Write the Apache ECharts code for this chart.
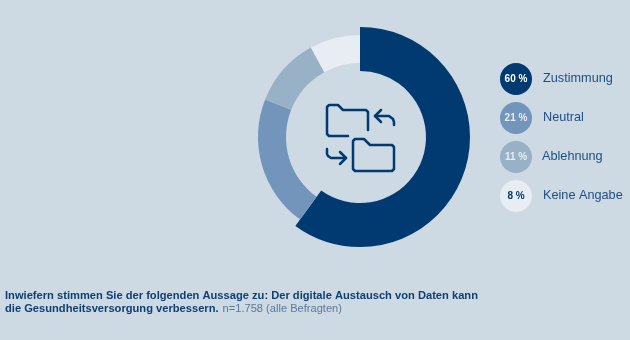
<!DOCTYPE html>
<html>
<head>
<meta charset="utf-8">
<title>Digitaler Austausch von Daten</title>
<script src="https://cdn.jsdelivr.net/npm/echarts@6/dist/echarts.min.js"></script>
<style>
html, body { margin: 0; padding: 0; background: #cdd9e3; }
#chart { width: 630px; height: 340px; }
</style>
</head>
<body>
<div id="chart"></div>
<script>
var categories = ['Zustimmung', 'Neutral', 'Ablehnung', 'Keine Angabe'];
var shares = [60, 21, 11, 8];
var colors = ['#003a70', '#7395bc', '#99b1c7', '#e7edf2'];
var badgeText = ['#ffffff', '#e7edf2', '#e7edf2', '#003a70'];

var questionBold = ['Inwiefern stimmen Sie der folgenden Aussage zu: Der digitale Austausch von Daten kann',
                    'die Gesundheitsversorgung verbessern.'];
var questionNote = 'n=1.758 (alle Befragten)';

var chart = echarts.init(document.getElementById('chart'), null, { renderer: 'canvas' });

// the big slice is wider than the others, so two rings sharing the same values
function ring(radius, showIndex) {
    return {
        type: 'pie',
        center: [360, 137],
        radius: radius,
        startAngle: 90,
        clockwise: true,
        silent: true,
        label: { show: false },
        labelLine: { show: false },
        data: categories.map(function (name, i) {
            return {
                name: name,
                value: shares[i],
                itemStyle: { color: showIndex(i) ? colors[i] : 'transparent' }
            };
        })
    };
}

var graphics = [];

// legend badges
var legendY = [79, 118, 157, 196];
var legendX = [543, 543, 542, 543];
categories.forEach(function (name, i) {
    graphics.push({
        type: 'circle',
        shape: { cx: 516, cy: legendY[i], r: 16 },
        style: { fill: colors[i] }
    });
    graphics.push({
        type: 'text',
        x: 516,
        y: legendY[i],
        style: {
            text: shares[i] + ' %',
            fill: badgeText[i],
            font: 'bold 10px "Liberation Sans"',
            align: 'center',
            verticalAlign: 'middle'
        }
    });
    graphics.push({
        type: 'text',
        x: legendX[i],
        y: legendY[i] - 1,
        style: {
            text: name,
            fill: '#1f4f83',
            font: '12.7px "Liberation Sans"',
            align: 'left',
            verticalAlign: 'middle'
        }
    });
});

// folder icon in the middle
var iconLines = [
    [[348, 136], [329, 136], [327, 134], [327, 107], [329, 105], [338, 105], [343, 110], [366, 110], [368, 112], [368, 130]],
    [[353, 141], [355, 139], [364, 139], [370, 145], [392, 145], [394, 147], [394, 169], [392, 171], [355, 171], [353, 169], [353, 141]],
    [[381, 110], [375, 116], [381, 122]],
    [[375, 116], [389, 116], [393, 119], [394, 122], [394, 125]],
    [[327, 149], [327, 154], [328, 156], [331, 158], [346, 158]],
    [[340, 152], [346, 158], [340, 164]]
];
iconLines.forEach(function (points) {
    graphics.push({
        type: 'polyline',
        shape: { points: points },
        style: { stroke: '#003a70', fill: 'none', lineWidth: 2.5, lineCap: 'round', lineJoin: 'round' }
    });
});

chart.setOption({
    backgroundColor: '#cdd9e3',
    animation: false,
    title: {
        left: 5,
        top: 289,
        padding: 0,
        text: '{b|' + questionBold[0] + '}\n{b|' + questionBold[1] + '}{n|' + questionNote + '}',
        textStyle: {
            fontWeight: 'normal',
            rich: {
                b: { fontFamily: 'Liberation Sans', fontSize: 11.15, fontWeight: 'bold', color: '#0f3f73', lineHeight: 13 },
                n: { fontFamily: 'Liberation Sans', fontSize: 11.1, fontWeight: 'normal', color: '#5b7a99', lineHeight: 13, padding: [0, 0, 0, 4] }
            }
        }
    },
    series: [
        ring([66, 110], function (i) { return i === 0; }),
        ring([74, 102], function (i) { return i !== 0; })
    ],
    graphic: { elements: graphics }
});
</script>
</body>
</html>
